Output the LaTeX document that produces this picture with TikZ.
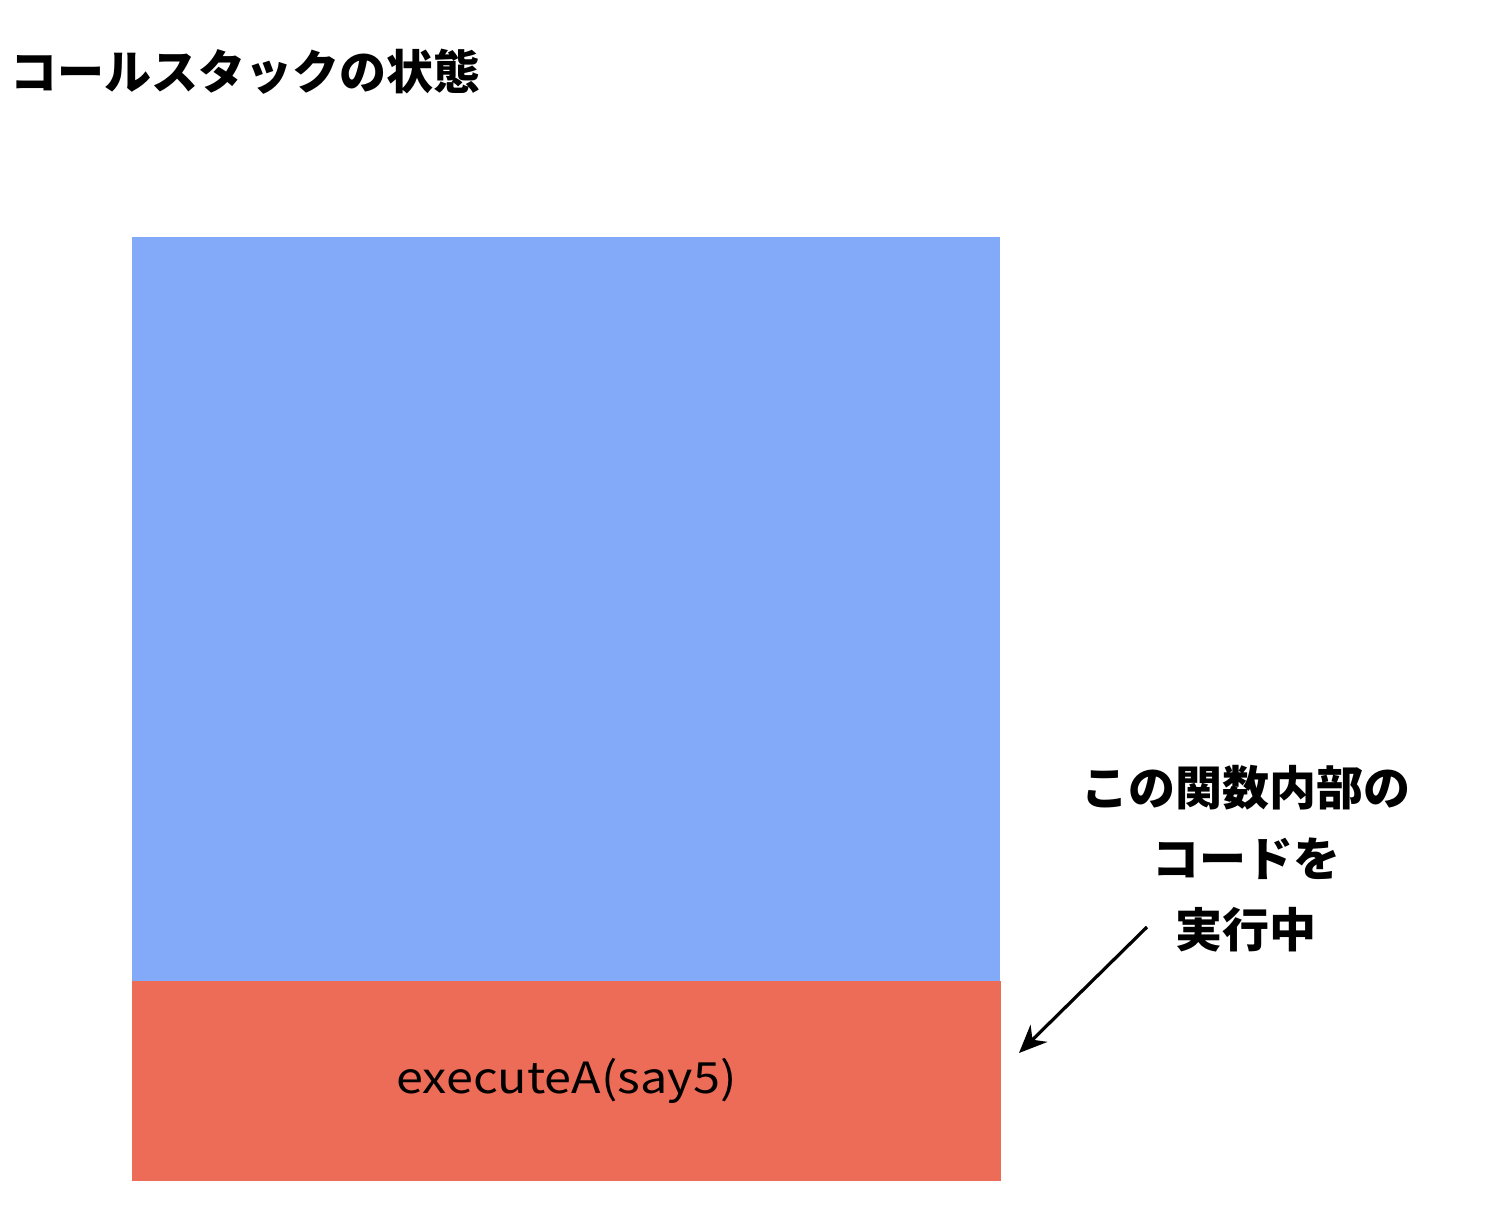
\documentclass[tikz,border=0pt]{standalone}
\usepackage{fontspec}
\setmainfont{Noto Sans CJK JP}
\newfontfamily\codefont[FakeStretch=1.13]{Noto Sans CJK JP}
\usetikzlibrary{arrows.meta}
\definecolor{stackblue}{RGB}{130,170,249}
\definecolor{framered}{RGB}{237,108,87}
\begin{document}
\begin{tikzpicture}
[x=0.5pt,y=-0.5pt,
  titledecorate/.style={anchor=west,inner sep=0pt,
    font=\fontsize{23.5}{28}\selectfont\bfseries},%
  stackdecorate/.style={fill=stackblue,inner sep=0pt,
    minimum width=434pt,minimum height=372pt},%
  framedecorate/.style={fill=framered,inner sep=0pt,
    minimum width=434.5pt,minimum height=100pt,
    font=\codefont\fontsize{21.5}{25}\selectfont},%
  notedecorate/.style={align=center,inner sep=0pt,
    font=\fontsize{23.5}{35.5}\selectfont\bfseries},%
  linedecorate/.style={-{Stealth[length=14pt,width=12pt]},line width=1.6pt}]
\useasboundingbox (0,0) rectangle (1490,1210);
%% title
\node (title) at (10,72) [titledecorate] {コールスタックの状態};
%% call stack
\node (stack) at (566,609) [stackdecorate] {};
\node (frame) at (566.5,1081) [framedecorate] {executeA(say5)};
%% note and arrow
\node (note) at (1246,859) [notedecorate] {この関数内部の\\コードを\\実行中};
\coordinate (from) at (1147,927);
\coordinate (to) at (1019,1053);
\draw[linedecorate] (from) -- (to);
\end{tikzpicture}
\end{document}
